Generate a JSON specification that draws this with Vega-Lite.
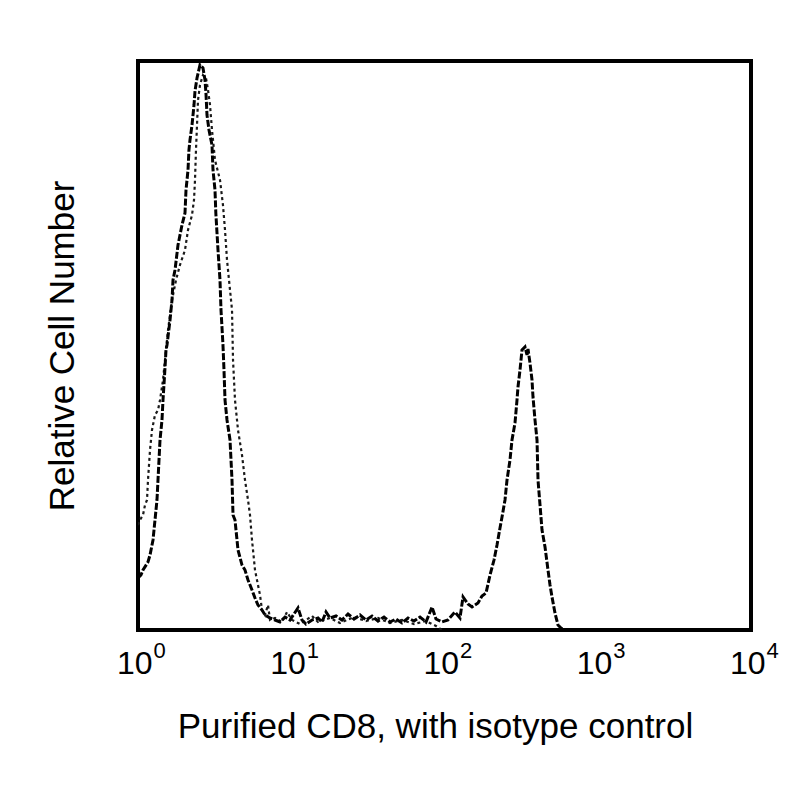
{
  "$schema": "https://vega.github.io/schema/vega-lite/v6.json",
  "width": 613,
  "height": 569,
  "autosize": {"type": "none"},
  "padding": {"left": 138, "top": 61, "right": 49, "bottom": 170},
  "background": "white",
  "config": {
    "view": {"stroke": "black", "strokeWidth": 4},
    "font": "Liberation Sans"
  },
  "datasets": {
    "cd8": [
      {"x": 1.000, "y": 9.14}, {"x": 1.046, "y": 9.67}, {"x": 1.078, "y": 10.54}, {"x": 1.162, "y": 11.95},
      {"x": 1.198, "y": 13.18}, {"x": 1.253, "y": 15.82}, {"x": 1.291, "y": 19.33}, {"x": 1.330, "y": 22.85},
      {"x": 1.392, "y": 33.39}, {"x": 1.434, "y": 36.91}, {"x": 1.456, "y": 40.42}, {"x": 1.50, "y": 46.0},
      {"x": 1.523, "y": 49.21}, {"x": 1.546, "y": 50.09}, {"x": 1.618, "y": 54.48}, {"x": 1.667, "y": 58.00},
      {"x": 1.692, "y": 61.51}, {"x": 1.744, "y": 63.27}, {"x": 1.824, "y": 67.66}, {"x": 1.937, "y": 71.18},
      {"x": 2.026, "y": 73.29}, {"x": 2.057, "y": 77.33}, {"x": 2.120, "y": 80.84}, {"x": 2.150, "y": 84.36},
      {"x": 2.184, "y": 86.12}, {"x": 2.251, "y": 88.75}, {"x": 2.320, "y": 92.27}, {"x": 2.355, "y": 94.73},
      {"x": 2.427, "y": 97.01}, {"x": 2.538, "y": 99.30}, {"x": 2.655, "y": 98.77}, {"x": 2.736, "y": 96.66},
      {"x": 2.778, "y": 94.20}, {"x": 2.820, "y": 90.51}, {"x": 2.906, "y": 87.87}, {"x": 3.040, "y": 85.24},
      {"x": 3.086, "y": 80.84}, {"x": 3.180, "y": 77.33}, {"x": 3.220, "y": 73.29}, {"x": 3.327, "y": 66.78},
      {"x": 3.428, "y": 61.51}, {"x": 3.480, "y": 56.24}, {"x": 3.585, "y": 50.09}, {"x": 3.640, "y": 45.69},
      {"x": 3.696, "y": 40.42}, {"x": 3.809, "y": 36.91}, {"x": 3.985, "y": 33.39}, {"x": 4.106, "y": 26.36},
      {"x": 4.169, "y": 20.21}, {"x": 4.295, "y": 19.33}, {"x": 4.426, "y": 15.82}, {"x": 4.493, "y": 14.06},
      {"x": 4.771, "y": 11.42}, {"x": 4.991, "y": 10.54}, {"x": 5.222, "y": 8.79}, {"x": 5.545, "y": 7.03},
      {"x": 5.800, "y": 5.62}, {"x": 6.067, "y": 4.39}, {"x": 6.445, "y": 3.51}, {"x": 6.742, "y": 2.64},
      {"x": 7.267, "y": 2.11}, {"x": 7.834, "y": 1.76}, {"x": 8.445, "y": 1.41}, {"x": 9.104, "y": 2.28},
      {"x": 9.813, "y": 1.76}, {"x": 11.07, "y": 3.87}, {"x": 11.75, "y": 1.76}, {"x": 12.48, "y": 1.05},
      {"x": 13.66, "y": 1.76}, {"x": 14.95, "y": 2.11}, {"x": 15.87, "y": 1.41}, {"x": 16.86, "y": 3.16},
      {"x": 17.90, "y": 2.11}, {"x": 19.59, "y": 2.46}, {"x": 21.44, "y": 1.76}, {"x": 23.46, "y": 2.81},
      {"x": 25.67, "y": 1.93}, {"x": 28.09, "y": 2.64}, {"x": 30.74, "y": 1.76}, {"x": 33.65, "y": 2.46},
      {"x": 36.82, "y": 1.58}, {"x": 40.29, "y": 2.28}, {"x": 44.10, "y": 1.41}, {"x": 48.26, "y": 1.93},
      {"x": 52.81, "y": 1.23}, {"x": 57.79, "y": 2.11}, {"x": 63.24, "y": 1.58}, {"x": 69.21, "y": 2.28},
      {"x": 75.73, "y": 1.41}, {"x": 82.88, "y": 4.04}, {"x": 88.01, "y": 1.93}, {"x": 96.31, "y": 1.41},
      {"x": 105.4, "y": 1.76}, {"x": 117.1, "y": 3.16}, {"x": 126.2, "y": 2.11}, {"x": 132.1, "y": 5.80},
      {"x": 142.3, "y": 4.57}, {"x": 151.2, "y": 4.04}, {"x": 165.4, "y": 4.75}, {"x": 175.7, "y": 5.98},
      {"x": 186.6, "y": 6.50}, {"x": 198.2, "y": 9.67}, {"x": 210.4, "y": 12.30}, {"x": 220.1, "y": 14.94},
      {"x": 230.2, "y": 17.93}, {"x": 237.3, "y": 19.86}, {"x": 248.2, "y": 22.85}, {"x": 255.8, "y": 26.36},
      {"x": 267.5, "y": 29.88}, {"x": 275.7, "y": 33.39}, {"x": 288.4, "y": 36.38}, {"x": 297.2, "y": 40.42},
      {"x": 301.7, "y": 42.71}, {"x": 310.9, "y": 45.69}, {"x": 320.4, "y": 49.21}, {"x": 335.2, "y": 49.74},
      {"x": 345.5, "y": 48.33}, {"x": 350.6, "y": 49.38}, {"x": 361.3, "y": 46.92}, {"x": 372.4, "y": 43.94},
      {"x": 378.0, "y": 40.95}, {"x": 389.5, "y": 36.91}, {"x": 401.5, "y": 33.39}, {"x": 407.6, "y": 26.36},
      {"x": 420.0, "y": 21.97}, {"x": 432.8, "y": 17.57}, {"x": 452.8, "y": 14.59}, {"x": 473.6, "y": 10.54},
      {"x": 488.1, "y": 7.91}, {"x": 502.9, "y": 5.80}, {"x": 526.0, "y": 2.99}, {"x": 550.3, "y": 0.88},
      {"x": 575.6, "y": 0.35}, {"x": 611.4, "y": 0}
    ],
    "iso": [
      {"x": 1.000, "y": 18.45}, {"x": 1.030, "y": 19.33}, {"x": 1.078, "y": 20.21}, {"x": 1.111, "y": 21.97},
      {"x": 1.145, "y": 22.85}, {"x": 1.162, "y": 26.36}, {"x": 1.198, "y": 31.63}, {"x": 1.234, "y": 35.15},
      {"x": 1.291, "y": 37.79}, {"x": 1.351, "y": 38.66}, {"x": 1.392, "y": 40.42}, {"x": 1.456, "y": 43.94},
      {"x": 1.523, "y": 49.21}, {"x": 1.570, "y": 52.72}, {"x": 1.667, "y": 58.00}, {"x": 1.770, "y": 61.51},
      {"x": 1.879, "y": 64.15}, {"x": 2.026, "y": 66.78}, {"x": 2.120, "y": 70.30}, {"x": 2.251, "y": 72.93},
      {"x": 2.320, "y": 75.57}, {"x": 2.355, "y": 79.09}, {"x": 2.390, "y": 84.36}, {"x": 2.427, "y": 88.75},
      {"x": 2.464, "y": 93.15}, {"x": 2.538, "y": 95.78}, {"x": 2.655, "y": 97.54}, {"x": 2.778, "y": 97.01},
      {"x": 2.863, "y": 94.90}, {"x": 2.950, "y": 92.27}, {"x": 3.040, "y": 87.87}, {"x": 3.180, "y": 82.60},
      {"x": 3.428, "y": 79.09}, {"x": 3.585, "y": 74.69}, {"x": 3.696, "y": 70.30}, {"x": 3.809, "y": 65.03},
      {"x": 3.985, "y": 59.75}, {"x": 4.106, "y": 56.24}, {"x": 4.169, "y": 47.45}, {"x": 4.295, "y": 40.42},
      {"x": 4.493, "y": 35.15}, {"x": 4.771, "y": 30.76}, {"x": 4.991, "y": 26.36}, {"x": 5.222, "y": 22.85},
      {"x": 5.381, "y": 20.21}, {"x": 5.545, "y": 15.82}, {"x": 5.800, "y": 10.54}, {"x": 6.067, "y": 7.91},
      {"x": 6.254, "y": 6.15}, {"x": 6.445, "y": 3.51}, {"x": 6.742, "y": 2.64}, {"x": 7.052, "y": 4.39},
      {"x": 7.267, "y": 1.76}, {"x": 7.834, "y": 2.11}, {"x": 8.704, "y": 1.41}, {"x": 9.382, "y": 3.16},
      {"x": 10.11, "y": 1.76}, {"x": 11.40, "y": 1.05}, {"x": 12.48, "y": 1.76}, {"x": 13.66, "y": 2.46},
      {"x": 14.95, "y": 1.41}, {"x": 17.90, "y": 2.11}, {"x": 20.80, "y": 1.23}, {"x": 25.67, "y": 2.28},
      {"x": 30.74, "y": 1.58}, {"x": 36.82, "y": 2.11}, {"x": 44.10, "y": 1.23}, {"x": 52.81, "y": 1.76},
      {"x": 63.24, "y": 1.05}, {"x": 75.73, "y": 1.58}, {"x": 88.01, "y": 0.70}, {"x": 96.31, "y": 0}
    ]
  },
  "layer": [
    {
      "data": {"name": "iso"},
      "mark": {"type": "line", "color": "#1a1a1a", "strokeWidth": 2.2, "strokeDash": [3, 3], "clip": true},
      "encoding": {
        "x": {
          "field": "x", "type": "quantitative",
          "scale": {"type": "log", "domain": [1, 10000]},
          "axis": {
            "orient": "bottom", "values": [1, 10, 100, 1000, 10000],
            "labelExpr": "'' + round(log(datum.value) / LN10)",
            "labelFontSize": 22, "labelColor": "black", "labelAlign": "left", "labelOffset": 15, "labelPadding": 10,
            "labelFlush": false, "labelOverlap": false, "labelBound": false,
            "ticks": false, "domain": false, "grid": false, "title": null
          }
        },
        "y": {
          "field": "y", "type": "quantitative",
          "scale": {"domain": [0, 100]},
          "axis": {
            "labels": false, "ticks": false, "domain": false, "grid": false,
            "title": "Relative Cell Number", "titleFontSize": 35, "titleFontWeight": "normal",
            "titleColor": "black", "titlePadding": 58
          }
        }
      }
    },
    {
      "data": {"name": "cd8"},
      "mark": {"type": "line", "color": "black", "strokeWidth": 3, "strokeDash": [7, 2], "clip": true},
      "encoding": {
        "x": {
          "field": "x", "type": "quantitative",
          "scale": {"type": "log", "domain": [1, 10000]},
          "axis": {
            "orient": "bottom", "values": [1, 10, 100, 1000, 10000],
            "labelExpr": "'10'",
            "labelFontSize": 32, "labelColor": "black", "labelAlign": "right", "labelOffset": 14, "labelPadding": 18,
            "labelFlush": false, "labelOverlap": false, "labelBound": false,
            "ticks": false, "domain": false, "grid": false,
            "title": "Purified CD8, with isotype control", "titleFontSize": 35, "titleX": 297,
            "titleFontWeight": "normal", "titleColor": "black", "titlePadding": 30
          }
        },
        "y": {"field": "y", "type": "quantitative", "scale": {"domain": [0, 100]}}
      }
    }
  ],
  "resolve": {"axis": {"x": "independent"}}
}
